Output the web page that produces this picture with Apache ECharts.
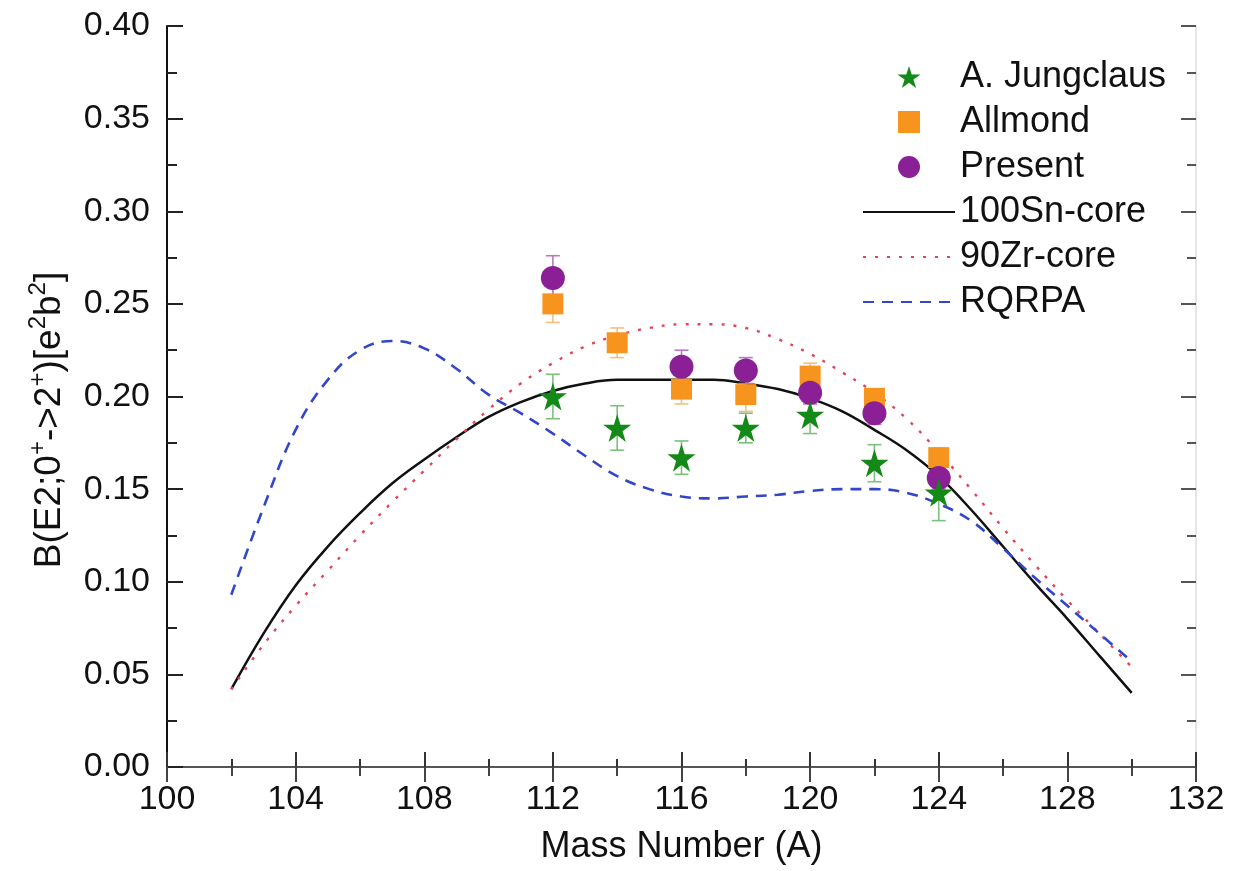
<!DOCTYPE html>
<html>
<head>
<meta charset="utf-8">
<script src="https://cdn.jsdelivr.net/npm/echarts@6/dist/echarts.min.js"></script>
<style>
  html, body { margin: 0; padding: 0; background: #fff; }
  #chart { width: 1253px; height: 871px; }
</style>
</head>
<body>
<div id="chart"></div>
<script>
// B(E2; 0+ -> 2+) systematics for even Sn isotopes

// Experimental points
const jungclausA = [112, 114, 116, 118, 120, 122, 124];
const jungclausB = [0.200, 0.183, 0.167, 0.183, 0.190, 0.164, 0.148];
const jungclausErr = [0.012, 0.012, 0.009, 0.008, 0.010, 0.010, 0.015];

const allmondA = [112, 114, 116, 118, 120, 122, 124];
const allmondB = [0.250, 0.229, 0.204, 0.201, 0.211, 0.199, 0.167];
const allmondErr = [0.010, 0.008, 0.008, 0.009, 0.007, 0.005, 0.005];

const presentA = [112, 116, 118, 120, 122, 124];
const presentB = [0.264, 0.216, 0.214, 0.202, 0.191, 0.156];
const presentErr = [0.012, 0.009, 0.007, 0.006, 0.006, 0.006];

// Theory curves
const theoryA = [102, 103, 104, 105, 106, 107, 108, 109, 110, 111, 112, 113, 114, 115, 116,
                 117, 118, 119, 120, 121, 122, 123, 124, 125, 126, 127, 128, 129, 130];
const sn100Core = [0.042, 0.072, 0.098, 0.119, 0.137, 0.153, 0.166, 0.178, 0.189, 0.197, 0.203,
                   0.207, 0.209, 0.209, 0.209, 0.209, 0.207, 0.204, 0.199, 0.192, 0.182, 0.171,
                   0.157, 0.139, 0.119, 0.099, 0.080, 0.060, 0.040];
const zr90Core = [0.042, 0.066, 0.087, 0.106, 0.125, 0.143, 0.160, 0.177, 0.193, 0.207, 0.218,
                  0.227, 0.233, 0.237, 0.239, 0.239, 0.237, 0.231, 0.223, 0.213, 0.202, 0.188,
                  0.170, 0.150, 0.129, 0.109, 0.090, 0.072, 0.054];
const rqrpa = [0.093, 0.140, 0.182, 0.209, 0.225, 0.230, 0.226, 0.215, 0.201, 0.191, 0.180,
               0.168, 0.157, 0.150, 0.146, 0.145, 0.146, 0.147, 0.149, 0.150, 0.150, 0.148,
               0.142, 0.133, 0.118, 0.102, 0.087, 0.072, 0.057];

// Axis ticks
const xTicks = [100, 104, 108, 112, 116, 120, 124, 128, 132];
const yTicks = [0.00, 0.05, 0.10, 0.15, 0.20, 0.25, 0.30, 0.35, 0.40];

const FONT = 'Liberation Sans, Arial, Helvetica, sans-serif';
const STAR = 'path://M50,0 L61.2,34.5 L97.6,34.5 L68.2,55.9 L79.4,90.5 L50,69.1 L20.6,90.5 L31.8,55.9 L2.4,34.5 L38.8,34.5 Z';
const SQUARE = 'path://M0,0 L10,0 L10,10 L0,10 Z';

const GREEN = '#138a17';
const ORANGE = '#f7941d';
const PURPLE = '#8a1f96';

function pairs(xs, ys) { return xs.map((x, i) => [x, ys[i]]); }
function bars(xs, ys, es) { return xs.map((x, i) => [x, ys[i] - es[i], ys[i] + es[i]]); }

function errorBar(color) {
  return function (params, api) {
    const x = api.value(0);
    const lo = api.coord([x, api.value(1)]);
    const hi = api.coord([x, api.value(2)]);
    const cap = 7;
    const style = { stroke: color, lineWidth: 1.6 };
    return {
      type: 'group',
      children: [
        { type: 'line', shape: { x1: lo[0], y1: lo[1], x2: hi[0], y2: hi[1] }, style: style },
        { type: 'line', shape: { x1: lo[0] - cap, y1: lo[1], x2: lo[0] + cap, y2: lo[1] }, style: style },
        { type: 'line', shape: { x1: hi[0] - cap, y1: hi[1], x2: hi[0] + cap, y2: hi[1] }, style: style }
      ]
    };
  };
}

const chart = echarts.init(document.getElementById('chart'), null, { renderer: 'canvas' });

const tickLabelStyle = { fontFamily: FONT, fontSize: 34, color: '#111' };
const hiddenSymbol = { opacity: 0 };

const option = {
  backgroundColor: '#ffffff',
  animation: false,
  grid: { left: 167, right: 57, top: 26, bottom: 104, containLabel: false },
  legend: {
    orient: 'vertical',
    left: 857,
    top: 54,
    itemWidth: 92,
    itemHeight: 22,
    itemGap: 9,
    symbolKeepAspect: true,
    textStyle: { fontFamily: FONT, fontSize: 36, color: '#111' },
    data: [
      { name: 'A. Jungclaus', icon: STAR },
      { name: 'Allmond', icon: SQUARE },
      { name: 'Present', icon: 'circle' },
      { name: '100Sn-core', itemStyle: hiddenSymbol },
      { name: '90Zr-core', itemStyle: hiddenSymbol },
      { name: 'RQRPA', itemStyle: hiddenSymbol }
    ]
  },
  xAxis: [
    {
      type: 'value', min: 100, max: 132, interval: 4, position: 'bottom',
      axisLine: { show: true, lineStyle: { color: '#d4d4d4', width: 1.5 } },
      axisTick: { inside: true, length: 15, lineStyle: { color: '#333', width: 2 } },
      minorTick: { show: true, splitNumber: 2, length: 8, lineStyle: { color: '#333', width: 2 } },
      splitLine: { show: false },
      axisLabel: Object.assign({ margin: 16, formatter: v => String(v) }, tickLabelStyle),
      name: 'Mass Number (A)',
      nameLocation: 'middle',
      nameGap: 62,
      nameTextStyle: { fontFamily: FONT, fontSize: 36, color: '#111' }
    },
    {
      type: 'value', min: 100, max: 132, interval: 4, position: 'top',
      axisLine: { show: true, lineStyle: { color: '#555', width: 2 } },
      axisTick: { inside: true, length: 15, lineStyle: { color: '#444', width: 2 } },
      minorTick: { show: true, splitNumber: 2, length: 9, lineStyle: { color: '#444', width: 2 } },
      splitLine: { show: false },
      axisLabel: { show: false }
    }
  ],
  yAxis: [
    {
      type: 'value', min: 0, max: 0.4, interval: 0.05, position: 'left',
      axisLine: { show: true, lineStyle: { color: '#111', width: 2 } },
      axisTick: { inside: true, length: 16, lineStyle: { color: '#222', width: 2 } },
      minorTick: { show: true, splitNumber: 2, length: 10, lineStyle: { color: '#222', width: 2 } },
      splitLine: { show: false },
      axisLabel: Object.assign({ margin: 17, formatter: v => v.toFixed(2) }, tickLabelStyle)
    },
    {
      type: 'value', min: 0, max: 0.4, interval: 0.05, position: 'right',
      axisLine: { show: true, lineStyle: { color: '#dcdcdc', width: 1.5 } },
      axisTick: { inside: true, length: 15, lineStyle: { color: '#555', width: 2 } },
      minorTick: { show: true, splitNumber: 2, length: 9, lineStyle: { color: '#555', width: 2 } },
      splitLine: { show: false },
      axisLabel: { show: false }
    }
  ],
  graphic: [
    {
      type: 'text',
      x: 50, y: 420,
      rotation: Math.PI / 2,
      style: {
        text: 'B(E2;0{sup|+}->2{sup|+})[e{sup|2}b{sup|2}]',
        fontFamily: FONT, fontSize: 37, fill: '#111',
        align: 'center', verticalAlign: 'middle',
        rich: {
          sup: { fontFamily: FONT, fontSize: 24, fill: '#111', verticalAlign: 'bottom', padding: [0, 0, 23, 0] }
        }
      }
    }
  ],
  series: [
    {
      name: '100Sn-core', type: 'line', smooth: 0.4, showSymbol: false, symbol: 'none',
      data: pairs(theoryA, sn100Core),
      lineStyle: { color: '#111', width: 2.5, type: 'solid' }, itemStyle: { color: '#111' }, z: 2
    },
    {
      name: '90Zr-core', type: 'line', smooth: 0.4, showSymbol: false, symbol: 'none',
      data: pairs(theoryA, zr90Core),
      lineStyle: { color: '#e0455a', width: 2.4, type: [3, 9] }, itemStyle: { color: '#e0455a' }, z: 2
    },
    {
      name: 'RQRPA', type: 'line', smooth: 0.4, showSymbol: false, symbol: 'none',
      data: pairs(theoryA, rqrpa),
      lineStyle: { color: '#3346c8', width: 2.6, type: [11, 8] }, itemStyle: { color: '#3346c8' }, z: 2
    },
    {
      type: 'custom', renderItem: errorBar('#7cc07c'),
      data: bars(jungclausA, jungclausB, jungclausErr), z: 3, silent: true
    },
    {
      type: 'custom', renderItem: errorBar('#f6c07a'),
      data: bars(allmondA, allmondB, allmondErr), z: 3, silent: true
    },
    {
      type: 'custom', renderItem: errorBar('#b77ac0'),
      data: bars(presentA, presentB, presentErr), z: 3, silent: true
    },
    {
      name: 'A. Jungclaus', type: 'scatter', symbol: STAR, symbolSize: 28,
      data: pairs(jungclausA, jungclausB), itemStyle: { color: GREEN, opacity: 1 }, z: 5
    },
    {
      name: 'Allmond', type: 'scatter', symbol: 'rect', symbolSize: 21,
      data: pairs(allmondA, allmondB), itemStyle: { color: ORANGE, opacity: 1 }, z: 4
    },
    {
      name: 'Present', type: 'scatter', symbol: 'circle', symbolSize: 24,
      data: pairs(presentA, presentB), itemStyle: { color: PURPLE, opacity: 1 }, z: 4
    }
  ]
};

chart.setOption(option);
</script>
</body>
</html>
